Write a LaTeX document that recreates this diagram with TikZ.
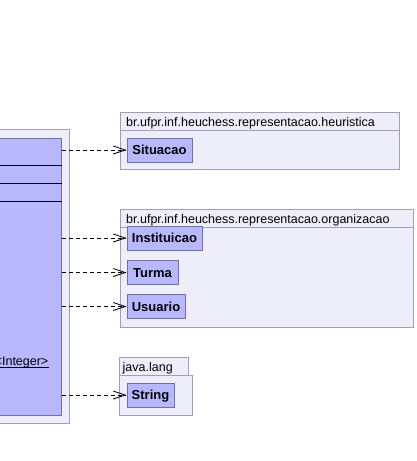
\documentclass[tikz,border=0pt]{standalone}
\usepackage{fontspec}
\setmainfont{Liberation Sans}
\usetikzlibrary{arrows.meta}
\definecolor{pkgfill}{RGB}{238,238,250}
\definecolor{pkgdraw}{RGB}{160,160,180}
\definecolor{clsfill}{RGB}{184,184,255}
\definecolor{clsdraw}{RGB}{112,112,160}
\begin{document}
\begin{tikzpicture}[x=1pt,y=-1pt,
  pkg/.style={draw=pkgdraw, fill=pkgfill, line width=1pt},
  cls/.style={draw=clsdraw, fill=clsfill, line width=1pt, inner sep=0pt,
    text height=9.4pt, text depth=0pt, font=\fontsize{13}{15}\selectfont\bfseries},
  pkglabel/.style={anchor=base west, inner sep=0pt, font=\fontsize{12.5}{14}\selectfont},
  dep/.style={dash pattern=on 4pt off 3pt, line width=0.8pt,
    -{Straight Barb[length=12pt,width=8pt,line width=0.8pt]}}]
\useasboundingbox (0,0) rectangle (416,461);
\clip (0,0) rectangle (416,461);
\fill[white] (0,0) rectangle (416,461);

% left package and class
\draw[pkg] (-20,129.5) rectangle (69.5,423.5);
\node[cls, minimum width=81pt, minimum height=277pt] (main) at (20.5,276.5) {};
\draw[line width=1pt] (-20,165.5) -- (main.east |- 0,165.5);
\draw[line width=1pt] (-20,183.5) -- (main.east |- 0,183.5);
\draw[line width=1pt] (-20,201.5) -- (main.east |- 0,201.5);
\node[anchor=base east, inner sep=0pt, font=\fontsize{12.5}{14}\selectfont] (intl) at (48.5,365) {<Integer>};
\draw[line width=1pt] ([yshift=-2.5pt]intl.base west) -- ([yshift=-2.5pt]intl.base east);

% heuristica package
\draw[pkg] (120.5,112.5) rectangle (399.5,169.5);
\draw[pkgdraw, line width=1pt] (120.5,130.5) -- (399.5,130.5);
\node[pkglabel] (lheur) at (126,126) {br.ufpr.inf.heuchess.representacao.heuristica};
\node[cls, minimum width=65pt, minimum height=24pt] (sit) at (159.5,150) {Situacao};

% organizacao package
\draw[pkg] (120.5,209.5) rectangle (413.5,327.5);
\draw[pkgdraw, line width=1pt] (120.5,227.5) -- (413.5,227.5);
\node[pkglabel] (lorg) at (126,223) {br.ufpr.inf.heuchess.representacao.organizacao};
\node[cls, minimum width=75pt, minimum height=24pt] (inst) at (164.5,238) {Instituicao};
\node[cls, minimum width=51pt, minimum height=24pt] (turma) at (152.5,272.5) {Turma};
\node[cls, minimum width=58pt, minimum height=24pt] (usu) at (156,306.5) {Usuario};

% java.lang package
\draw[pkg] (119.5,357.5) rectangle (188.5,375.5);
\draw[pkg] (119.5,375.5) rectangle (192.5,415.5);
\node[pkglabel] (ljava) at (122.5,371) {java.lang};
\node[cls, minimum width=47pt, minimum height=24pt] (str) at (150.5,395) {String};

% dependencies
\draw[dep] (main.east |- sit.west) -- (sit.west);
\draw[dep] (main.east |- inst.west) -- (inst.west);
\draw[dep] (main.east |- turma.west) -- (turma.west);
\draw[dep] (main.east |- usu.west) -- (usu.west);
\draw[dep] (main.east |- str.west) -- (str.west);
\end{tikzpicture}
\end{document}
